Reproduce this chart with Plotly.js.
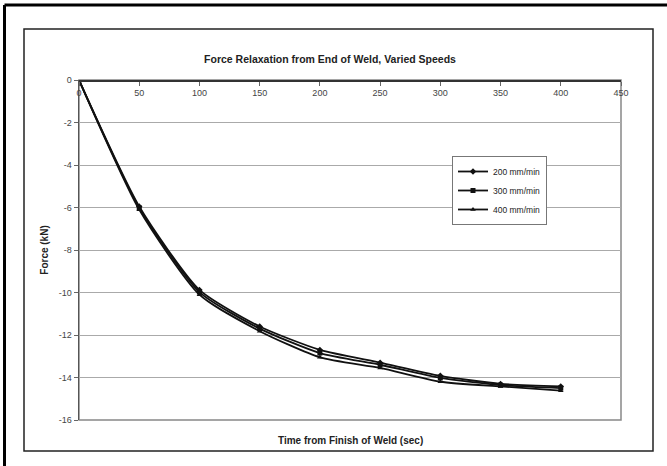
<!DOCTYPE html>
<html>
<head>
<meta charset="utf-8">
<script src="https://cdn.plot.ly/plotly-3.0.1.min.js"></script>
<style>
html,body{margin:0;padding:0;background:#fff;}
#chart{width:667px;height:466px;}
</style>
</head>
<body>
<div id="chart"></div>
<script>
const timeSec = [0, 50, 100, 150, 200, 250, 300, 350, 400];
const force200 = [0, -5.95, -9.88, -11.6, -12.7, -13.3, -13.92, -14.3, -14.42];
const force300 = [0, -6.02, -9.98, -11.7, -12.85, -13.4, -14.02, -14.36, -14.5];
const force400 = [0, -6.1, -10.1, -11.82, -13.05, -13.55, -14.2, -14.42, -14.62];
const seriesNames = ["200 mm/min", "300 mm/min", "400 mm/min"];
const yTicks = [0, -2, -4, -6, -8, -10, -12, -14, -16];
const xTicks = [0, 50, 100, 150, 200, 250, 300, 350, 400, 450];

const W = 667, H = 466;
const L = 79, R = 621, T = 80, B = 420;
const pw = R - L, ph = B - T;
function px(x){ return (x - L) / pw; }
function py(y){ return (B - y) / ph; }

const symbols = ["diamond", "square", "triangle-up"];
const data = [force200, force300, force400].map((ys, i) => ({
  x: timeSec, y: ys, name: seriesNames[i], type: "scatter", mode: "lines+markers",
  line: {color: "#111", width: 1.8, shape: "spline", smoothing: 0.6},
  marker: {symbol: symbols[i], size: 5, color: "#111"}
}));

const font = {family: "Liberation Sans, Arial, sans-serif", color: "#222"};
const tickFont = {family: "Liberation Sans, Arial, sans-serif", color: "#444", size: 9};
const layout = {
  width: W, height: H,
  margin: {l: L, r: W - R, t: T, b: H - B, pad: 0},
  paper_bgcolor: "#fff", plot_bgcolor: "#fff",
  showlegend: true,
  font: Object.assign({size: 8}, font),
  title: {text: "<b>Force Relaxation from End of Weld, Varied Speeds</b>",
          font: Object.assign({size: 10.5}, font), x: px(330), xanchor: "center", xref: "paper",
          y: 1 - 59 / H, yanchor: "middle"},
  xaxis: {
    range: [0, 450], tickvals: xTicks, ticktext: xTicks.map(String),
    anchor: "free", position: 1, side: "bottom",
    ticks: "outside", ticklen: 4, tickcolor: "#666",
    showgrid: false, zeroline: false,
    showline: true, linecolor: "#333", linewidth: 1.5,
    tickfont: tickFont, automargin: false
  },
  yaxis: {
    range: [-16, 0], tickvals: yTicks, ticktext: yTicks.map(String),
    ticks: "outside", ticklen: 4, tickcolor: "#666",
    showgrid: true, gridcolor: "#aaa", gridwidth: 1, zeroline: false,
    showline: true, linecolor: "#555", linewidth: 1.5,
    tickfont: tickFont, automargin: false,
    title: {text: "<b>Force (kN)</b>", font: Object.assign({size: 10}, font), standoff: 8}
  },
  legend: {
    x: px(452), y: py(156), xanchor: "left", yanchor: "top",
    bgcolor: "#fff", bordercolor: "#777", borderwidth: 1,
    font: Object.assign({size: 8.5}, font), tracegroupgap: 0,
    itemwidth: 30
  },
  shapes: [
    {type: "rect", xref: "paper", yref: "paper", x0: px(L), x1: px(R), y0: py(B), y1: py(T), line: {color: "#888", width: 1.5}, layer: "below"},
    {type: "rect", xref: "paper", yref: "paper", x0: px(24), x1: px(653), y0: py(451), y1: py(29), line: {color: "#222", width: 1.5}},
    {type: "line", xref: "paper", yref: "paper", x0: px(4.5), x1: px(667), y0: py(5), y1: py(5), line: {color: "#000", width: 3}},
    {type: "line", xref: "paper", yref: "paper", x0: px(4.5), x1: px(4.5), y0: py(5), y1: py(466), line: {color: "#000", width: 3}}
  ],
  annotations: [
    {text: "<b>Time from Finish of Weld (sec)</b>", xref: "paper", yref: "paper",
     x: px(350), y: py(440), showarrow: false, font: Object.assign({size: 10}, font),
     xanchor: "center", yanchor: "middle"}
  ]
};

Plotly.newPlot("chart", data, layout, {displayModeBar: false, staticPlot: true});
</script>
</body>
</html>
